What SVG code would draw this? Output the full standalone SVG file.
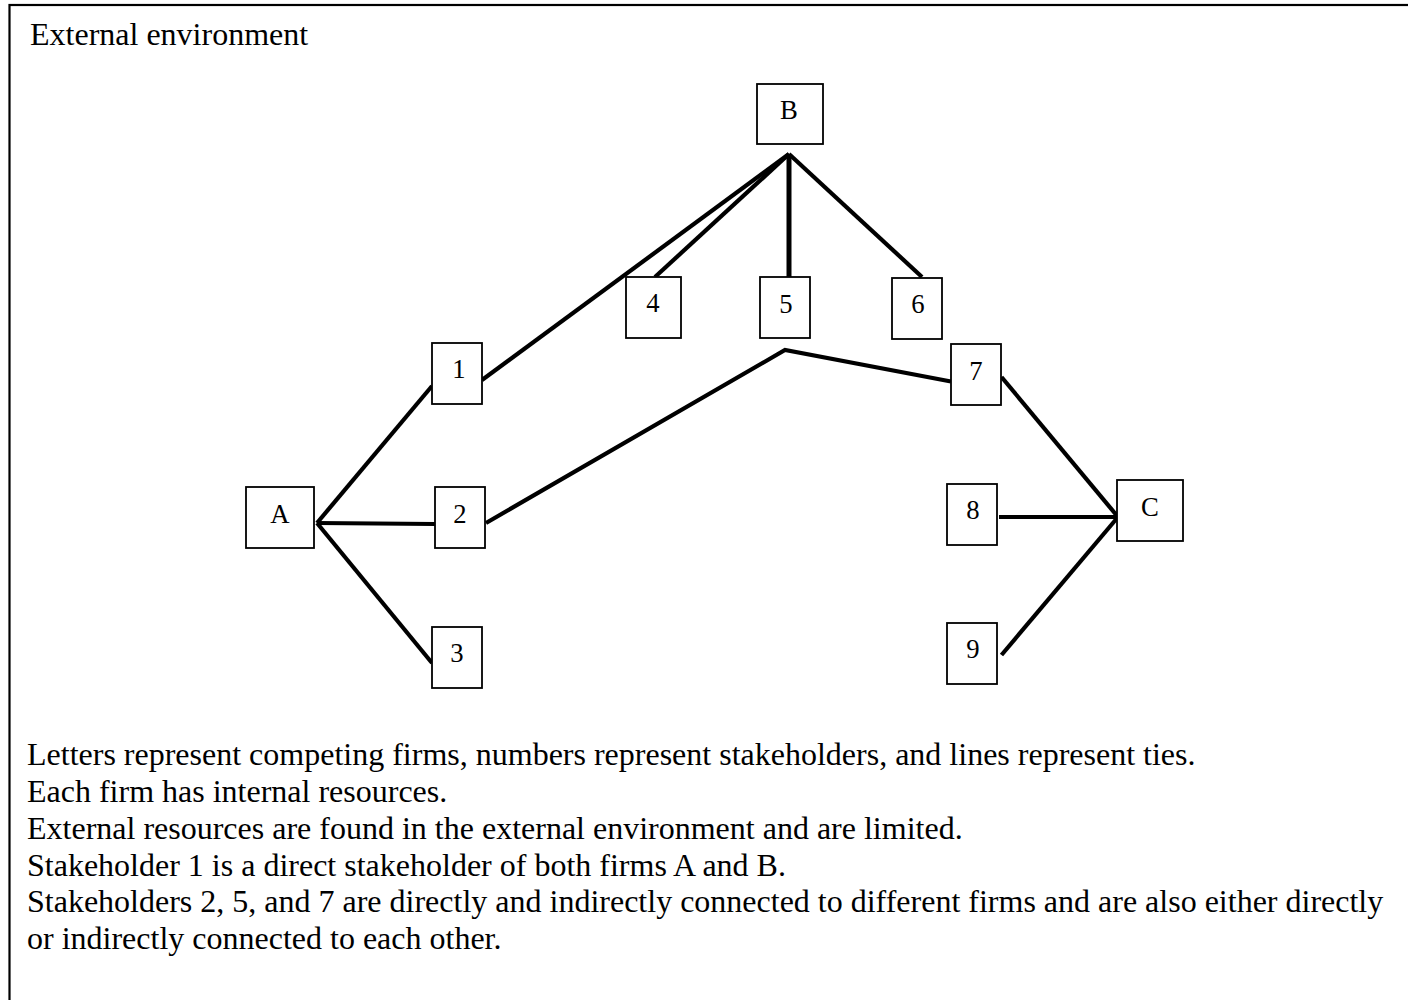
<svg xmlns="http://www.w3.org/2000/svg" width="1408" height="1000" viewBox="0 0 1408 1000">
<style>
.frame{fill:none;stroke:#000;stroke-width:2.2}
.node rect{fill:#fff;stroke:#000;stroke-width:1.8}
.node text{font-family:"Liberation Serif","Times New Roman",serif;font-size:26.7px;fill:#000;text-anchor:middle}
.edge{fill:none;stroke:#000;stroke-width:4.2;stroke-linejoin:miter;stroke-linecap:butt}
.txt{font-family:"Liberation Serif","Times New Roman",serif;font-size:32px;fill:#000}
</style>
<rect x="0" y="0" width="1408" height="1000" fill="#fff"/>
<rect class="frame" x="9.5" y="5" width="1410" height="1010"/>
<text class="txt" x="30" y="45">External environment</text>

<g id="connectors">
<line class="edge" x1="789" y1="154" x2="482" y2="380"/>
<line class="edge" x1="789" y1="154" x2="655" y2="277"/>
<line class="edge" x1="789" y1="154" x2="789" y2="278" style="stroke-width:5"/>
<line class="edge" x1="789" y1="154" x2="922" y2="277"/>
<line class="edge" x1="317" y1="523" x2="432" y2="386"/>
<line class="edge" x1="317" y1="523" x2="435" y2="524"/>
<line class="edge" x1="317" y1="523" x2="432" y2="663"/>
<polyline class="edge" points="486,523 785,350 951,381.5"/>
<line class="edge" x1="1001.5" y1="377" x2="1118" y2="517"/>
<line class="edge" x1="999" y1="517" x2="1118" y2="517"/>
<line class="edge" x1="1001.5" y1="655" x2="1118" y2="517"/>
</g>

<g id="node-B" class="node"><rect x="757" y="84" width="66" height="60"/><text x="789" y="119">B</text></g>
<g id="node-4" class="node"><rect x="626" y="277" width="55" height="61"/><text x="653" y="312">4</text></g>
<g id="node-5" class="node"><rect x="760" y="277" width="50" height="61"/><text x="786" y="312.5">5</text></g>
<g id="node-6" class="node"><rect x="892" y="278" width="50" height="61"/><text x="918" y="312.5">6</text></g>
<g id="node-1" class="node"><rect x="432" y="343" width="50" height="61"/><text x="459" y="378">1</text></g>
<g id="node-A" class="node"><rect x="246" y="487" width="68" height="61"/><text x="280" y="522.5">A</text></g>
<g id="node-2" class="node"><rect x="435" y="487" width="50" height="61"/><text x="460" y="522.5">2</text></g>
<g id="node-3" class="node"><rect x="432" y="627" width="50" height="61"/><text x="457" y="662">3</text></g>
<g id="node-7" class="node"><rect x="951" y="344" width="50" height="61"/><text x="976" y="380">7</text></g>
<g id="node-8" class="node"><rect x="947" y="484" width="50" height="61"/><text x="973" y="519">8</text></g>
<g id="node-9" class="node"><rect x="947" y="623" width="50" height="61"/><text x="973" y="658">9</text></g>
<g id="node-C" class="node"><rect x="1117" y="480" width="66" height="61"/><text x="1150" y="516">C</text></g>

<g id="notes">
<text class="txt" x="27" y="765">Letters represent competing firms, numbers represent stakeholders, and lines represent ties.</text>
<text class="txt" x="27" y="802">Each firm has internal resources.</text>
<text class="txt" x="27" y="839">External resources are found in the external environment and are limited.</text>
<text class="txt" x="27" y="876">Stakeholder 1 is a direct stakeholder of both firms A and B.</text>
<text class="txt" x="27" y="912">Stakeholders 2, 5, and 7 are directly and indirectly connected to different firms and are also either directly</text>
<text class="txt" x="27" y="949">or indirectly connected to each other.</text>
</g>
</svg>
